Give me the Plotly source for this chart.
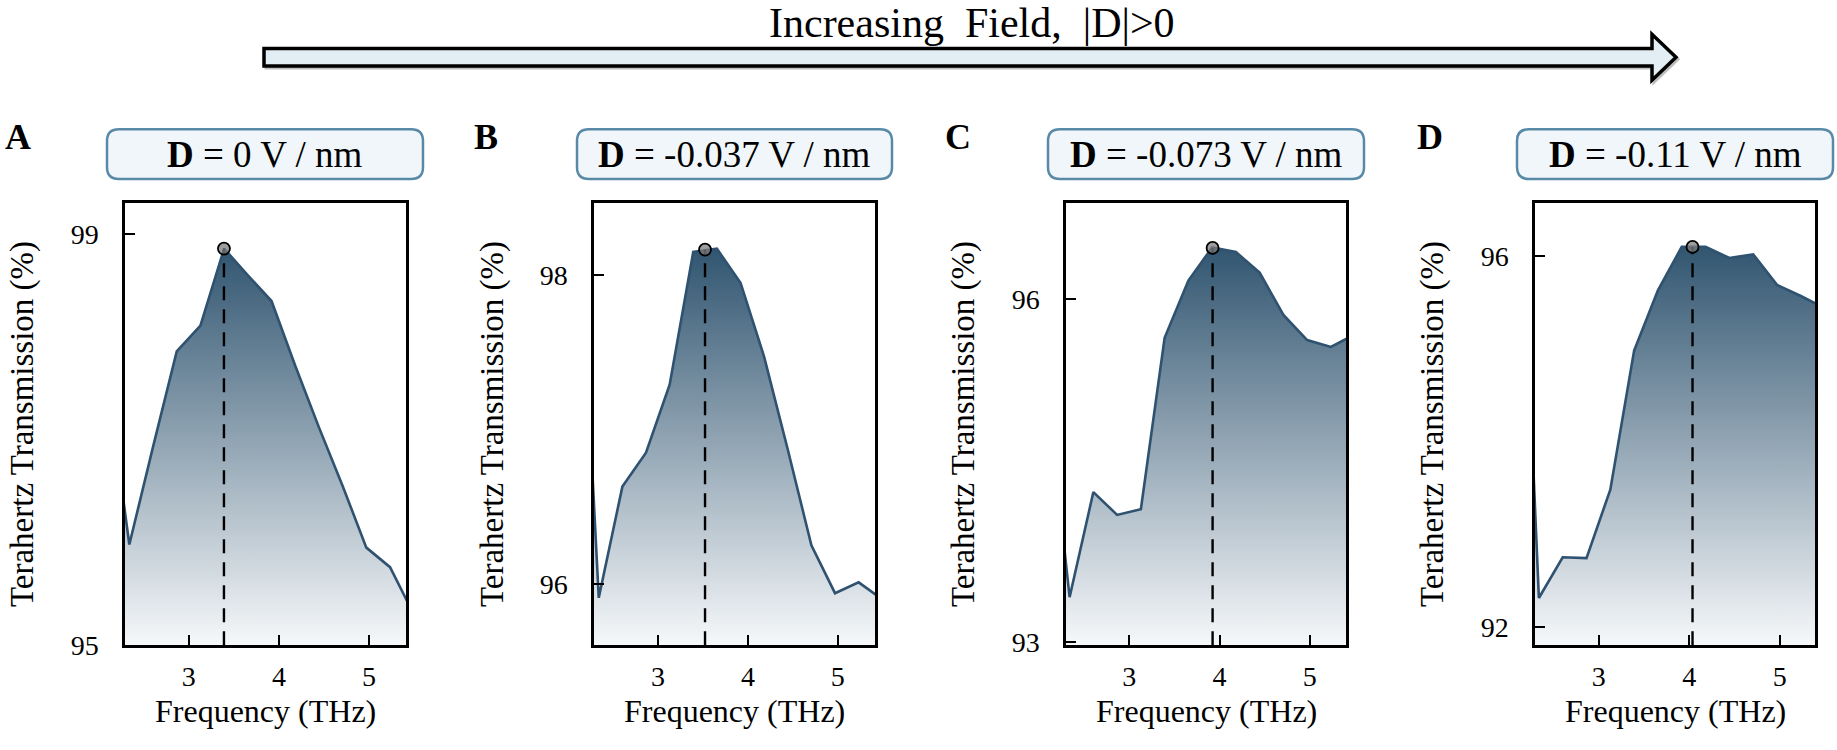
import plotly.graph_objects as go

W, H = 1837, 750

# ---------------- data ----------------
freq = [2.077, 2.34, 2.603, 2.866, 3.129, 3.392, 3.655, 3.918, 4.181, 4.444, 4.707, 4.97, 5.233, 5.496]

trans_A = [97.7, 95.98, 96.93, 97.86, 98.11, 98.86, 98.6, 98.35, 97.72, 97.12, 96.55, 95.95, 95.76, 95.3]
trans_B = [98.9, 95.91, 96.63, 96.85, 97.29, 98.15, 98.17, 97.95, 97.47, 96.87, 96.25, 95.94, 96.01, 95.9]
trans_C = [95.3, 93.39, 94.31, 94.11, 94.16, 95.66, 96.16, 96.45, 96.41, 96.23, 95.86, 95.64, 95.58, 95.69]
trans_D = [98.3, 92.31, 92.75, 92.74, 93.48, 94.98, 95.63, 96.1, 96.1, 95.98, 96.02, 95.69, 95.57, 95.44]

peak_freq = [3.39, 3.523, 3.923, 4.037]
peak_trans = [98.86, 98.165, 96.446, 96.1]

panel_letters = ["A", "B", "C", "D"]
field_labels = ["0", "-0.037", "-0.073", "-0.11"]

x_ranges = [[2.292, 5.41], [2.287, 5.415], [2.30, 5.40], [2.297, 5.39]]
y_ranges = [[95.0, 99.305], [95.603, 98.467], [92.97, 96.84], [91.80, 96.575]]
y_ticks = [[95, 99], [96, 98], [93, 96], [92, 96]]
x_ticks = [3, 4, 5]

series = [trans_A, trans_B, trans_C, trans_D]

# ---------------- layout geometry (pixels) ----------------
plot_px = [(125, 406), (594, 875), (1066, 1346), (1535, 1815)]
plot_top, plot_bot = 207.3, 659.3
box_px = [(107, 423), (577, 892), (1048, 1364), (1517, 1833)]
box_top, box_bot = 132, 183
letter_x = [18, 486, 958, 1430]
ytitle_x = [22, 492, 963, 1432]

def X(px):
    return px / W

def Y(py):
    return 1 - py / H

FONT = "Liberation Serif, Times New Roman, serif"
LINE = "#2f5270"

fig = go.Figure()
layout = dict(
    width=W, height=H, margin=dict(l=0, r=0, t=0, b=0),
    paper_bgcolor="white", plot_bgcolor="white", showlegend=False,
    font=dict(family=FONT, color="black"),
)
shapes = []
annotations = []

for i in range(4):
    xa = "x" if i == 0 else f"x{i+1}"
    ya = "y" if i == 0 else f"y{i+1}"
    y0 = y_ranges[i][0]
    fig.add_trace(go.Scatter(
        x=freq, y=series[i], xaxis=xa, yaxis=ya, mode="lines",
        line=dict(color=LINE, width=2.6),
        fill="tozeroy",
        fillgradient=dict(type="vertical",
                          colorscale=[[0, "rgb(251,252,253)"], [1, "rgb(50,86,113)"]],
                          start=y0, stop=peak_trans[i]),
        hoverinfo="skip",
    ))
    fig.add_trace(go.Scatter(
        x=[peak_freq[i], peak_freq[i]], y=[y0, peak_trans[i]], xaxis=xa, yaxis=ya,
        mode="lines", line=dict(color="black", width=2.4, dash="14px,9px"), hoverinfo="skip",
    ))
    fig.add_trace(go.Scatter(
        x=[peak_freq[i]], y=[peak_trans[i]], xaxis=xa, yaxis=ya, mode="markers",
        marker=dict(size=12, color="rgba(125,125,125,0.75)", line=dict(color="black", width=1.8)),
        hoverinfo="skip",
    ))
    axis_common = dict(showline=True, linecolor="black", linewidth=2.5, mirror=True,
                       ticks="inside", ticklen=10, tickwidth=2.2, tickcolor="black",
                       showgrid=False, zeroline=False,
                       tickfont=dict(family=FONT, size=28, color="black"))
    xk = "xaxis" if i == 0 else f"xaxis{i+1}"
    yk = "yaxis" if i == 0 else f"yaxis{i+1}"
    layout[xk] = dict(axis_common, domain=[X(plot_px[i][0]), X(plot_px[i][1])],
                      range=x_ranges[i], tickvals=x_ticks, anchor=ya, ticklabelstandoff=4)
    layout[yk] = dict(axis_common, domain=[Y(plot_bot), Y(plot_top)],
                      range=y_ranges[i], tickvals=y_ticks[i], anchor=xa, ticklabelstandoff=18)

    # rounded label box
    bx0, bx1 = box_px[i]
    r = 12
    path = (f"M {X(bx0+r)},{Y(box_top)} L {X(bx1-r)},{Y(box_top)} "
            f"Q {X(bx1)},{Y(box_top)} {X(bx1)},{Y(box_top+r)} "
            f"L {X(bx1)},{Y(box_bot-r)} Q {X(bx1)},{Y(box_bot)} {X(bx1-r)},{Y(box_bot)} "
            f"L {X(bx0+r)},{Y(box_bot)} Q {X(bx0)},{Y(box_bot)} {X(bx0)},{Y(box_bot-r)} "
            f"L {X(bx0)},{Y(box_top+r)} Q {X(bx0)},{Y(box_top)} {X(bx0+r)},{Y(box_top)} Z")
    shapes.append(dict(type="path", xref="paper", yref="paper", path=path,
                       fillcolor="rgb(240,246,249)", line=dict(color="rgb(88,138,168)", width=2.5),
                       layer="below"))
    annotations.append(dict(xref="paper", yref="paper", x=X((bx0+bx1)/2), y=Y((box_top+box_bot)/2),
                            text=f"<b>D</b> = {field_labels[i]} V / nm", showarrow=False,
                            font=dict(family=FONT, size=37, color="black"),
                            xanchor="center", yanchor="middle"))
    annotations.append(dict(xref="paper", yref="paper", x=X(letter_x[i]), y=Y(140),
                            text=f"<b>{panel_letters[i]}</b>", showarrow=False,
                            font=dict(family=FONT, size=36, color="black"),
                            xanchor="center", yanchor="middle"))
    annotations.append(dict(xref="paper", yref="paper", x=X(ytitle_x[i]), y=Y((plot_top+plot_bot)/2),
                            text="Terahertz Transmission (%)", textangle=-90, showarrow=False,
                            font=dict(family=FONT, size=33, color="black"),
                            xanchor="center", yanchor="middle"))
    annotations.append(dict(xref="paper", yref="paper", x=X((plot_px[i][0]+plot_px[i][1])/2), y=Y(726),
                            text="Frequency (THz)", showarrow=False,
                            font=dict(family=FONT, size=32, color="black"),
                            xanchor="center", yanchor="middle"))

# top arrow
ax0, ax1, ahb = 264, 1676, 1652
sy0, sy1 = 49.5, 67.5
hy0, hy1 = 35, 82
ymid = (sy0 + sy1) / 2
def arrow_path(dx=0, dy=0):
    return (f"M {X(ax0+dx)},{Y(sy0+dy)} L {X(ahb+dx)},{Y(sy0+dy)} L {X(ahb+dx)},{Y(hy0+dy)} "
            f"L {X(ax1+dx)},{Y(ymid+dy)} L {X(ahb+dx)},{Y(hy1+dy)} L {X(ahb+dx)},{Y(sy1+dy)} "
            f"L {X(ax0+dx)},{Y(sy1+dy)} Z")
shapes.append(dict(type="path", xref="paper", yref="paper", path=arrow_path(2, 2),
                   fillcolor="rgb(190,190,190)", line=dict(color="rgb(190,190,190)", width=3)))
shapes.append(dict(type="path", xref="paper", yref="paper", path=arrow_path(),
                   fillcolor="rgb(226,238,243)", line=dict(color="black", width=3.5)))
annotations.append(dict(xref="paper", yref="paper", x=X(972), y=Y(24),
                        text="Increasing\u00a0 Field,\u00a0 |D|>0", showarrow=False,
                        font=dict(family=FONT, size=42, color="black"),
                        xanchor="center", yanchor="middle"))

layout["shapes"] = shapes
layout["annotations"] = annotations
fig.update_layout(**layout)
fig.write_html("out.html")
